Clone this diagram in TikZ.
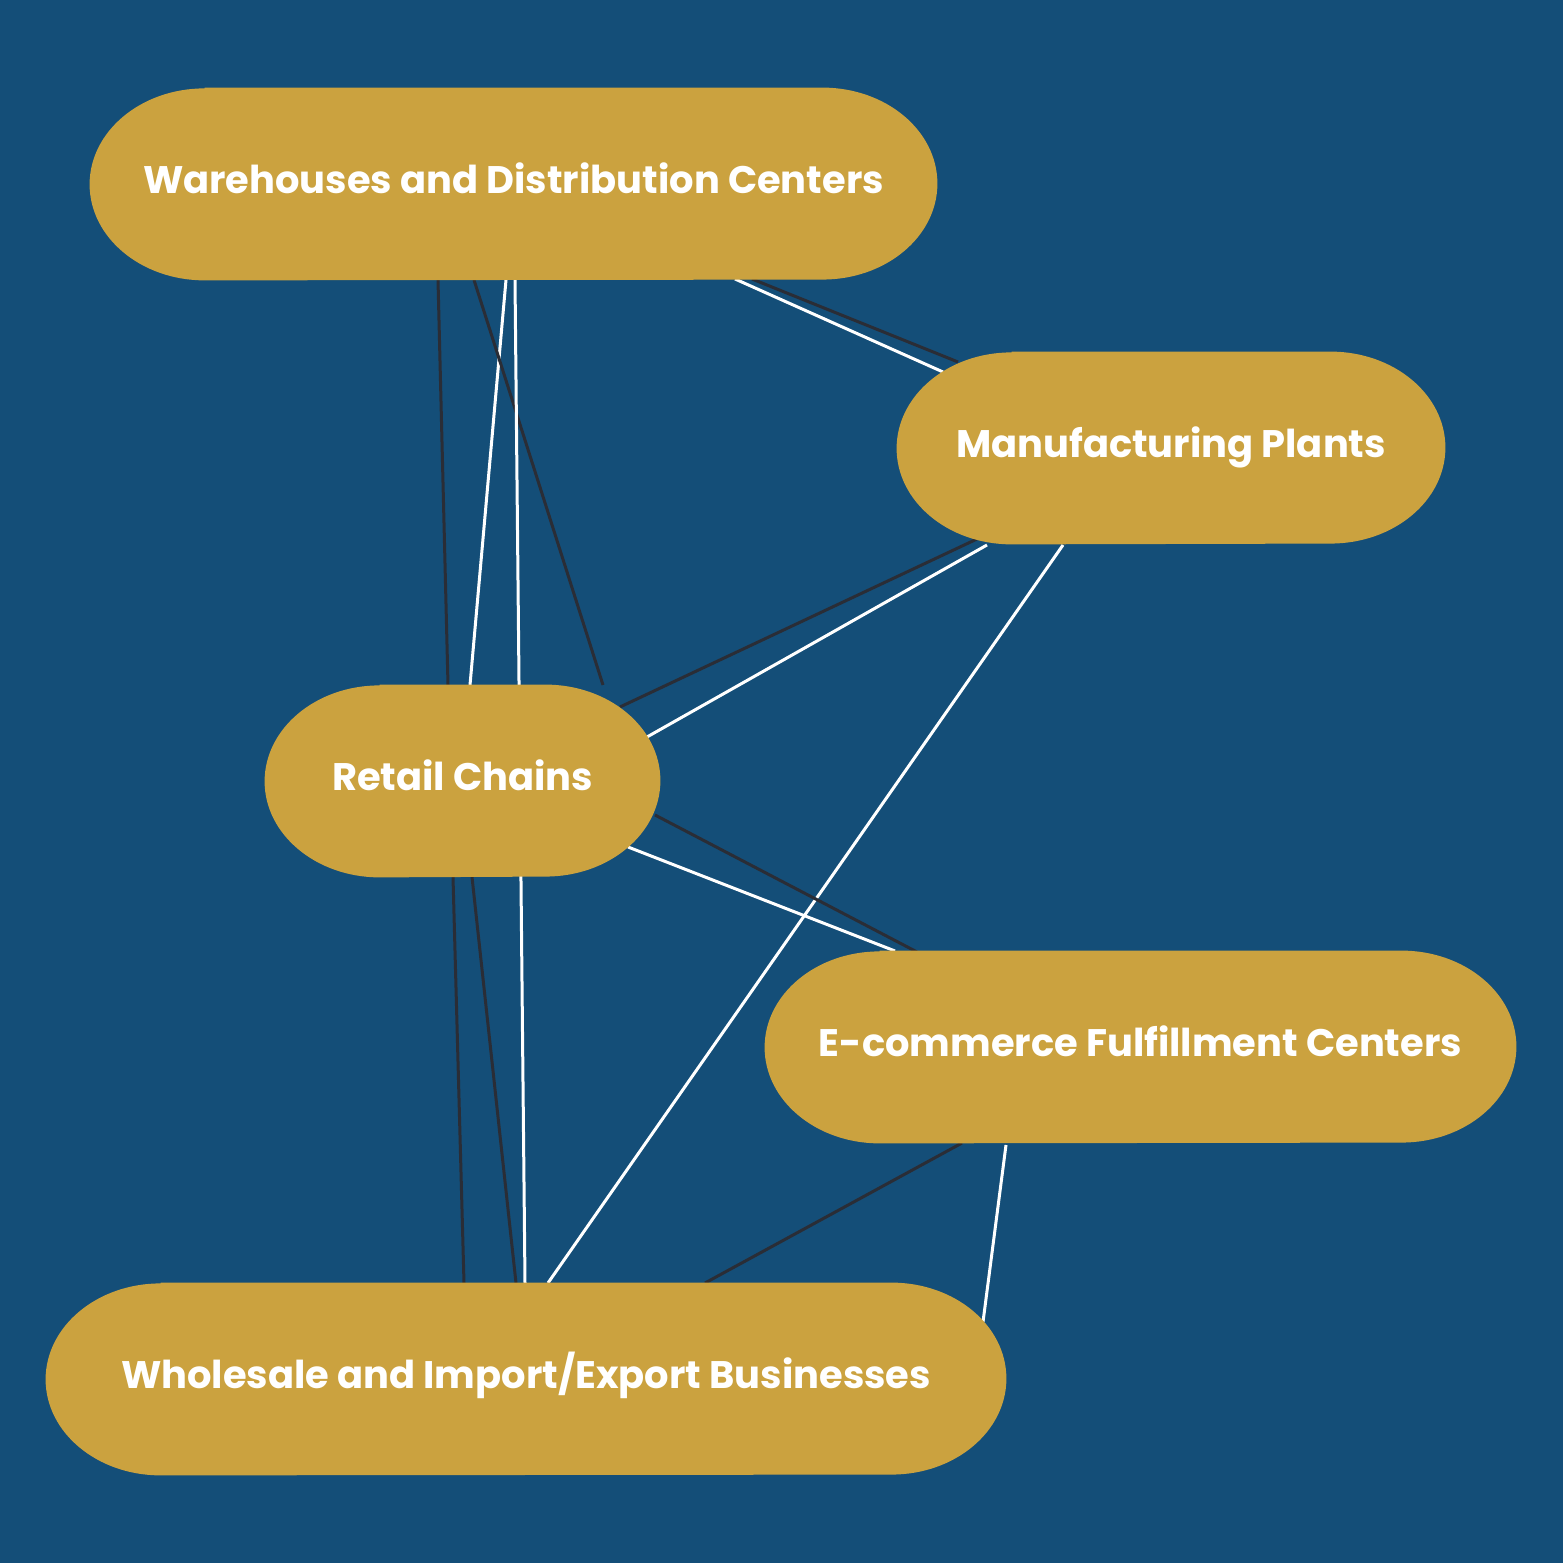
\documentclass[tikz,border=0pt]{standalone}
\usepackage{fontspec}
\setmainfont{Poppins}
\usetikzlibrary{calc}
\definecolor{bgblue}{HTML}{144E78}
\definecolor{gold}{HTML}{CBA23F}
\definecolor{darkline}{HTML}{2A2D36}
\pgfdeclarelayer{background}
\pgfdeclarelayer{edges}
\pgfdeclarelayer{shapes}
\pgfsetlayers{background,edges,shapes,main}
\newcommand\stadium[1]{%
  \fill[gold] ($(#1.north west)+(115,0)$) -- ($(#1.north east)+(-115,0)$)
    arc[start angle=90,end angle=-90,x radius=57.5pt,y radius=48pt]
    -- ($(#1.south west)+(115,0)$)
    arc[start angle=270,end angle=90,x radius=57.5pt,y radius=48pt] -- cycle;}
\begin{document}
\begin{tikzpicture}[x=0.5pt,y=0.5pt,
  lbl/.style={text=white,font=\bfseries\fontsize{19.2}{22}\selectfont,inner sep=0pt,
    text height=14pt,text depth=4pt,minimum height=96pt},
  dk/.style={draw=darkline,line width=1.5pt},
  wt/.style={draw=white,line width=1.5pt}]
\begin{pgfonlayer}{background}
\fill[bgblue] (0,0) rectangle (1563,1563);
\end{pgfonlayer}
\useasboundingbox (0,0) rectangle (1563,1563);
\node[lbl,minimum width=423.5pt] (W) at (513.5,1379) {Warehouses and Distribution Centers};
\node[lbl,minimum width=274pt] (M) at (1171,1115) {Manufacturing Plants};
\node[lbl,minimum width=197.5pt] (R) at (462.5,782) {Retail Chains};
\node[lbl,minimum width=375.5pt] (E) at (1140.5,516) {E-commerce Fulfillment Centers};
\node[lbl,minimum width=480pt] (H) at (526,184) {Wholesale and Import/Export Businesses};
\begin{pgfonlayer}{shapes}
\stadium{W}\stadium{M}\stadium{R}\stadium{E}\stadium{H}
\end{pgfonlayer}
\begin{pgfonlayer}{edges}
\draw[dk] ($(W)+(238.5,-95)$) -- ($(M)+(-213,86)$);
\draw[wt] ($(W)+(221.5,-95)$) -- ($(M)+(-228,76)$);
\draw[dk] ($(W)+(-75.5,-96)$) -- ($(R)+(-14.5,96)$);
\draw[wt] ($(W)+(-7.5,-96)$) -- ($(R)+(7.5,96)$);
\draw[dk] ($(W)+(-39.5,-96)$) -- ($(R)+(140.5,96)$);
\draw[wt] ($(W)+(1.5,-96)$) -- ($(H)+(-1,96)$);
\draw[dk] ($(M)+(-194,-91)$) -- ($(R)+(157.5,74)$);
\draw[wt] ($(M)+(-184,-97)$) -- ($(R)+(184.5,44)$);
\draw[wt] ($(M)+(-108,-97)$) -- ($(H)+(22,96)$);
\draw[dk] ($(R)+(192.5,-34)$) -- ($(E)+(-223.5,95)$);
\draw[wt] ($(R)+(165.5,-66)$) -- ($(E)+(-245.5,96)$);
\draw[dk] ($(R)+(-9.5,-96)$) -- ($(H)+(-62,96)$);
\draw[dk] ($(R)+(9.5,-96)$) -- ($(H)+(-10,96)$);
\draw[dk] ($(E)+(-178.5,-96)$) -- ($(H)+(179,96)$);
\draw[wt] ($(E)+(-134.5,-98)$) -- ($(H)+(457,57)$);
\end{pgfonlayer}
\end{tikzpicture}
\end{document}
